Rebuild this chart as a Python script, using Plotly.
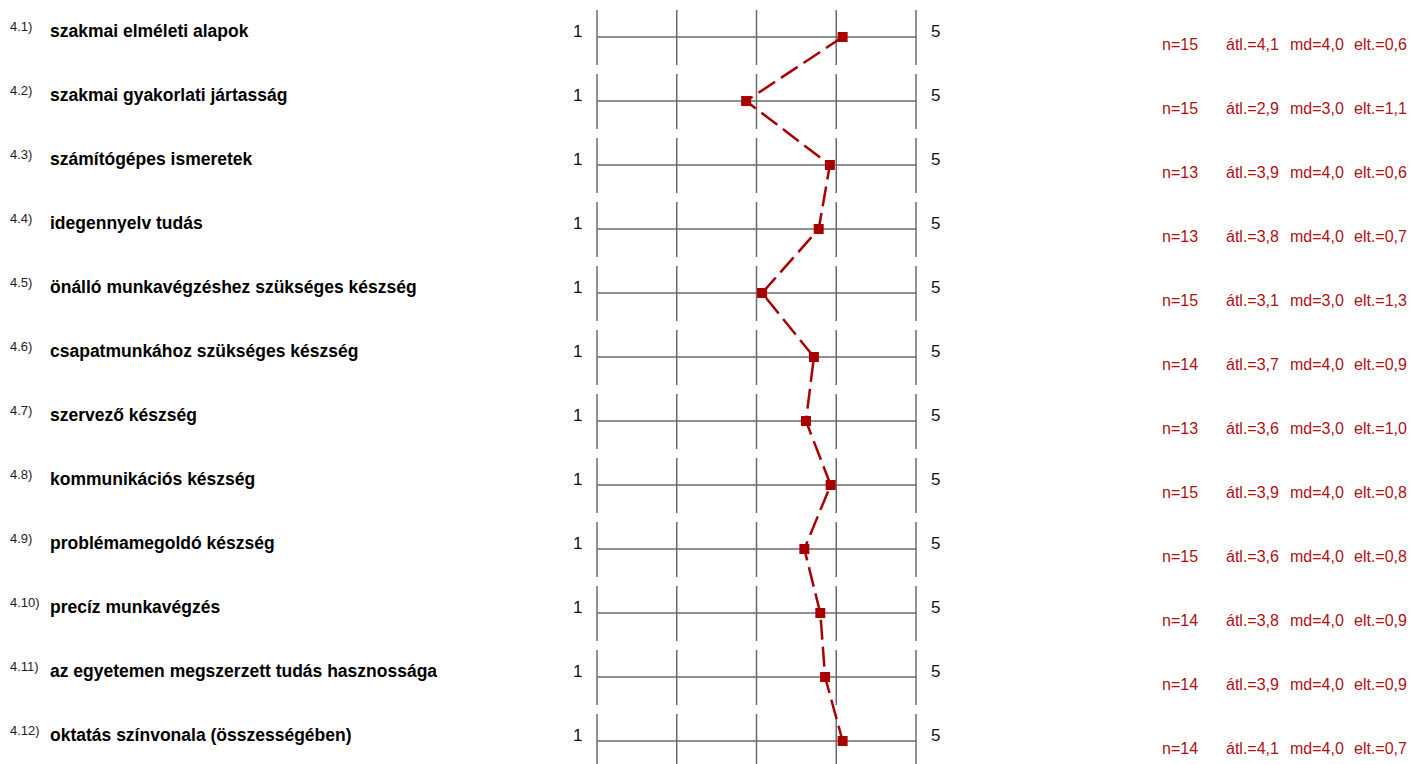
"""Rating profile chart (1-5 scale) with per-item statistics."""
import plotly.graph_objects as go

W, H = 1411, 764

codes = ['4.1)', '4.2)', '4.3)', '4.4)', '4.5)', '4.6)',
         '4.7)', '4.8)', '4.9)', '4.10)', '4.11)', '4.12)']
labels = [
    'szakmai elméleti alapok',
    'szakmai gyakorlati jártasság',
    'számítógépes ismeretek',
    'idegennyelv tudás',
    'önálló munkavégzéshez szükséges készség',
    'csapatmunkához szükséges készség',
    'szervező készség',
    'kommunikációs készség',
    'problémamegoldó készség',
    'precíz munkavégzés',
    'az egyetemen megszerzett tudás hasznossága',
    'oktatás színvonala (összességében)',
]
means = [4.08, 2.87, 3.92, 3.78, 3.07, 3.72, 3.62, 3.93, 3.60, 3.80, 3.86, 4.08]
n_vals = [15, 15, 13, 13, 15, 14, 13, 15, 15, 14, 14, 14]
atl = ['4,1', '2,9', '3,9', '3,8', '3,1', '3,7', '3,6', '3,9', '3,6', '3,8', '3,9', '4,1']
md = ['4,0', '3,0', '4,0', '4,0', '3,0', '4,0', '3,0', '4,0', '4,0', '4,0', '4,0', '4,0']
elt = ['0,6', '1,1', '0,6', '0,7', '1,3', '0,9', '1,0', '0,8', '0,8', '0,9', '0,9', '0,7']
scale = [1, 2, 3, 4, 5]

# pixel geometry of the scale: value 1 at x=597, value 5 at x=916
X1, X5 = 597, 916
unit = (X5 - X1) / 4
ROW0, ROWSTEP = 37, 64
x_range = [1 - X1 / unit, 5 + (W - X5) / unit]
y_range = [(H - ROW0) / ROWSTEP, -ROW0 / ROWSTEP]

rows = list(range(len(labels)))
grid_color = '#6b6b6b'
red = '#a80000'
font_family = 'Liberation Sans, Arial, sans-serif'

fig = go.Figure()

shapes = []
for i in rows:
    shapes.append(dict(type='line', xref='x', yref='y', x0=scale[0], x1=scale[-1], y0=i, y1=i,
                       layer='below', line=dict(color=grid_color, width=1.5)))
    for v in scale:
        shapes.append(dict(type='line', xref='x', yref='y', x0=v, x1=v,
                           y0=i - 27 / ROWSTEP, y1=i + 28 / ROWSTEP,
                           layer='below', line=dict(color=grid_color, width=1.5)))

fig.add_trace(go.Scatter(
    x=means,
    y=rows,
    mode='lines+markers',
    line=dict(color=red, width=2.5, dash='20px,7px'),
    marker=dict(symbol='square', size=10, color=red),
    hoverinfo='skip',
    showlegend=False,
))

annotations = []
for i in rows:
    annotations.append(dict(x=8 / W, xref='paper', y=i, yref='y', yshift=11,
                            text=codes[i], showarrow=False, xanchor='left',
                            font=dict(size=13, color='#222222', family=font_family)))
    annotations.append(dict(x=48 / W, xref='paper', y=i, yref='y', yshift=6,
                            text=f'<b>{labels[i]}</b>', showarrow=False, xanchor='left',
                            font=dict(size=17.5, color='#000000', family=font_family)))
    annotations.append(dict(x=577 / W, xref='paper', y=i, yref='y', yshift=6,
                            text=str(scale[0]), showarrow=False, xanchor='center',
                            font=dict(size=17, color='#111111', family=font_family)))
    annotations.append(dict(x=935 / W, xref='paper', y=i, yref='y', yshift=6,
                            text=str(scale[-1]), showarrow=False, xanchor='center',
                            font=dict(size=17, color='#111111', family=font_family)))
    stats = [(1160, f'n={n_vals[i]}'), (1224, f'átl.={atl[i]}'),
             (1288, f'md={md[i]}'), (1352, f'elt.={elt[i]}')]
    for px, txt in stats:
        annotations.append(dict(x=px / W, xref='paper', y=i, yref='y', yshift=-7,
                                text=txt, showarrow=False, xanchor='left',
                                font=dict(size=16, color='#b01010', family=font_family)))

fig.update_layout(
    width=W,
    height=H,
    margin=dict(l=0, r=0, t=0, b=0),
    plot_bgcolor='white',
    paper_bgcolor='white',
    xaxis=dict(range=x_range, visible=False, fixedrange=True),
    yaxis=dict(range=y_range, visible=False, fixedrange=True),
    shapes=shapes,
    annotations=annotations,
)

# drop the default page margin so the figure sits at the window origin
fig.write_html("out.html", config={'displayModeBar': False},
               post_script="document.body.style.margin='0';")
